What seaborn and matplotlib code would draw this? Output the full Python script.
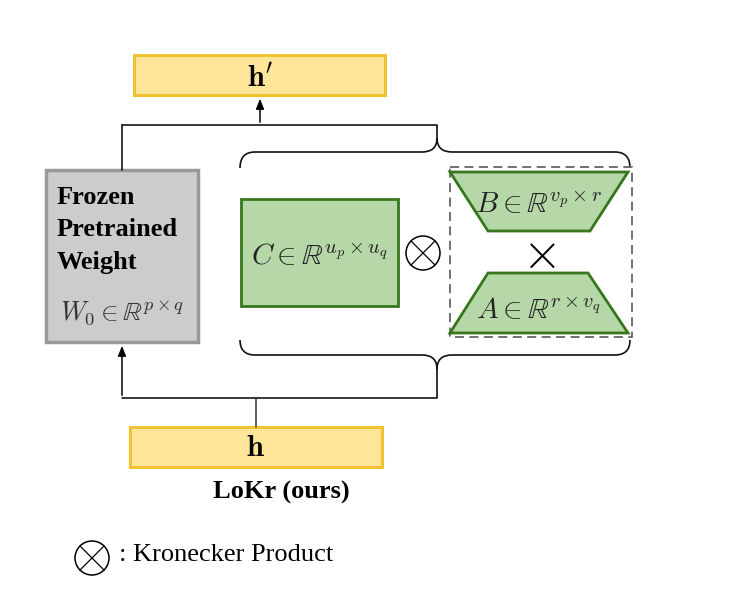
import matplotlib.pyplot as plt
import seaborn as sns
import numpy as np
from matplotlib.patches import Rectangle, Polygon, Circle, PathPatch
from matplotlib.path import Path

# labels
output_label = r"$\mathbf{h}'$"
input_label = r"$\mathbf{h}$"
frozen_lines = ["Frozen", "Pretrained", "Weight"]
w0_label = r"$W_0 \in \mathbb{R}^{p\times q}$"
c_label = r"$C \in \mathbb{R}^{u_p\times u_q}$"
b_label = r"$B \in \mathbb{R}^{v_p\times r}$"
a_label = r"$A \in \mathbb{R}^{r\times v_q}$"
caption = "LoKr (ours)"
legend_text = ": Kronecker Product"

# layout in pixel coords (x, y top-left, w, h)
boxes = {
    "h_out": (134, 55, 251, 40),
    "h_in": (130, 427, 252, 40),
    "frozen": (46, 170, 152, 172),
    "C": (241, 199, 157, 107),
    "dash": (450, 167, 182, 170),
}
trap_B = [(450, 172), (628, 172), (590, 231), (488, 231)]
trap_A = [(488, 273), (588, 273), (628, 333), (450, 333)]

YELLOW_FILL, YELLOW_EDGE = "#FFE599", "#F1C232"
GRAY_FILL, GRAY_EDGE = "#CCCCCC", "#999999"
GREEN_FILL, GREEN_EDGE = "#B6D7A8", "#38761D"


def otimes(ax, x, y, r=17):
    ax.add_patch(Circle((x, y), r, fill=False, ec="black", lw=1.1))
    d = r * np.cos(np.pi / 4)
    ax.plot([x - d, x + d], [y - d, y + d], color="black", lw=0.9)
    ax.plot([x - d, x + d], [y + d, y - d], color="black", lw=0.9)


def brace(ax, x0, x1, xm, ybase, yend, ycusp, ytip, r=15):
    verts = [(x0, yend), (x0, ybase), (x0 + r, ybase),
             (xm - r, ybase), (xm, ybase), (xm, ycusp),
             (xm, ytip), (xm, ycusp),
             (xm, ybase), (xm + r, ybase),
             (x1 - r, ybase), (x1, ybase), (x1, yend)]
    codes = [Path.MOVETO, Path.CURVE3, Path.CURVE3,
             Path.LINETO, Path.CURVE3, Path.CURVE3,
             Path.LINETO, Path.MOVETO,
             Path.CURVE3, Path.CURVE3,
             Path.LINETO, Path.CURVE3, Path.CURVE3]
    ax.add_patch(PathPatch(Path(verts, codes), fill=False, ec="#111111", lw=1.2))


sns.set_theme(style="white")
plt.rcParams["font.family"] = ["Liberation Serif", "DejaVu Serif"]
plt.rcParams["mathtext.fontset"] = "cm"
plt.rcParams["text.color"] = "black"

fig = plt.figure(figsize=(7.3, 6.08), dpi=100)
ax = fig.add_axes([0, 0, 1, 1])
ax.set_xlim(0, 730)
ax.set_ylim(608, 0)
ax.axis("off")

# connector lines
ax.plot([122, 437], [125, 125], color="black", lw=1.1)
ax.plot([122, 122], [125, 170], color="black", lw=1.1)
ax.plot([122, 437], [398, 398], color="black", lw=1.1)
ax.plot([256, 256], [398, 427], color="#333333", lw=1.1)
ax.annotate("", xy=(260, 96), xytext=(260, 125),
            arrowprops=dict(arrowstyle="-|>,head_length=0.5,head_width=0.2", color="black", lw=1.1))
ax.annotate("", xy=(122, 343), xytext=(122, 398),
            arrowprops=dict(arrowstyle="-|>,head_length=0.5,head_width=0.2", color="black", lw=1.1))

# yellow boxes
for key, lab, dy in [("h_out", output_label, 4), ("h_in", input_label, 2)]:
    x, y, w, h = boxes[key]
    ax.add_patch(Rectangle((x, y), w, h, fc=YELLOW_FILL, ec=YELLOW_EDGE, lw=2.2))
    ax.text(x + w / 2, y + h / 2 + dy, lab, ha="center", va="center", fontsize=22)

# frozen weight box
x, y, w, h = boxes["frozen"]
ax.add_patch(Rectangle((x, y), w, h, fc=GRAY_FILL, ec=GRAY_EDGE, lw=2.5))
for i, line in enumerate(frozen_lines):
    ax.text(57, 198 + i * 32, line, ha="left", va="center", fontsize=19, fontweight="bold")
ax.text(x + w / 2, 313, w0_label, ha="center", va="center", fontsize=19, color="#333333")

# braces
brace(ax, 240, 630, 437, 152, 168, 138, 125)
brace(ax, 240, 630, 437, 355, 340, 369, 398)

# C matrix
x, y, w, h = boxes["C"]
ax.add_patch(Rectangle((x, y), w, h, fc=GREEN_FILL, ec=GREEN_EDGE, lw=2))
ax.text(x + w / 2, y + h / 2 + 5, c_label, ha="center", va="center", fontsize=21, color="#222222")

otimes(ax, 423, 253)

# dashed box with B x A
x, y, w, h = boxes["dash"]
ax.add_patch(Rectangle((x, y), w, h, fill=False, ec="#666666", lw=1.3, ls=(0, (5, 3))))
ax.add_patch(Polygon(trap_B, closed=True, fc=GREEN_FILL, ec=GREEN_EDGE, lw=2))
ax.add_patch(Polygon(trap_A, closed=True, fc=GREEN_FILL, ec=GREEN_EDGE, lw=2))
ax.text(539, 206, b_label, ha="center", va="center", fontsize=21, color="#222222")
ax.text(539, 312, a_label, ha="center", va="center", fontsize=21, color="#222222")
ax.text(539, 256, r"$\times$", ha="center", va="center", fontsize=36)

# caption and legend
ax.text(281, 492, caption, ha="center", va="center", fontsize=19, fontweight="bold")
otimes(ax, 92, 558)
ax.text(119, 555, legend_text, ha="left", va="center", fontsize=19)

fig.savefig("out.png", dpi=100)
